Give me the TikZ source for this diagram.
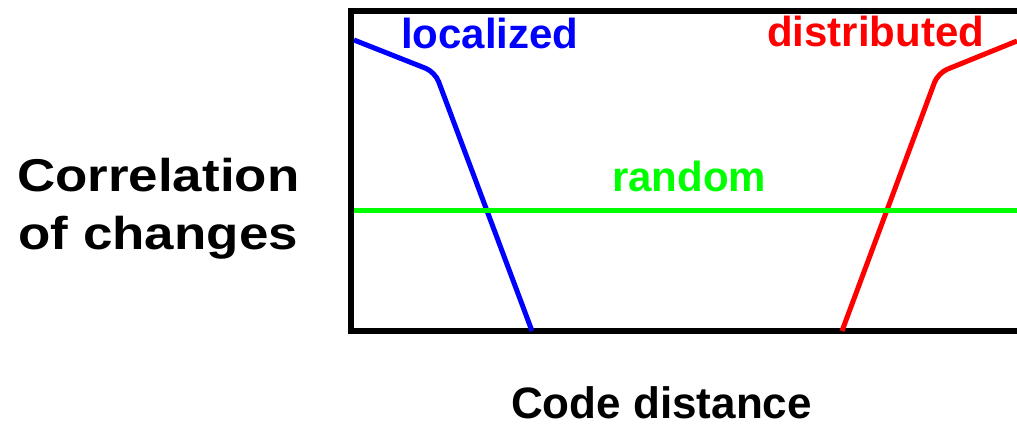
\documentclass[tikz,border=0pt]{standalone}
\usepackage{fontspec}
\setmainfont{Liberation Sans}
\usepackage{tikz}
\usetikzlibrary{positioning}
\definecolor{locblue}{RGB}{0,0,255}
\definecolor{distred}{RGB}{255,0,0}
\definecolor{randgreen}{RGB}{0,255,0}
\tikzset{
  curvelbl/.style={inner sep=0pt, anchor=base west, font=\bfseries\fontsize{42}{46}\selectfont},
  axislbl/.style={inner sep=0pt, font=\bfseries\fontsize{44}{58}\selectfont},
  curve/.style={line width=5pt, rounded corners=10pt}
}
\begin{document}
\begin{tikzpicture}[x=1pt, y=-1pt]
		\useasboundingbox (0,0) rectangle (1017,427);

		% Frame
		\draw[line width=6pt] (1017,11) -- (351,11) -- (351,331) -- (1017,331);

		% Curves
		\draw[curve, locblue] (354,40) -- (435,72) -- (532,331);
		\draw[curve, distred] (842,331) -- (938,73) -- (1017,41);
		\draw[curve, randgreen] (354,211) -- (1017,211);

		% Nodes
		\node (loc) [curvelbl, text=locblue] at (401,49) {localized};
		\node (dist) [curvelbl, text=distred] at (767,47) {distributed};
		\node (rand) [curvelbl, text=randgreen] at (612,192) {random};
		\node (corr) [axislbl, font=\bfseries\fontsize{46}{58}\selectfont, anchor=base west, align=center] at (17,250)
		  {\scalebox{1.15}[1]{Correlation}\\ \scalebox{1.15}[1]{of changes}};
		\node (codedist) [axislbl, anchor=base west] at (511,418) {Code distance};
	\end{tikzpicture}
\end{document}
